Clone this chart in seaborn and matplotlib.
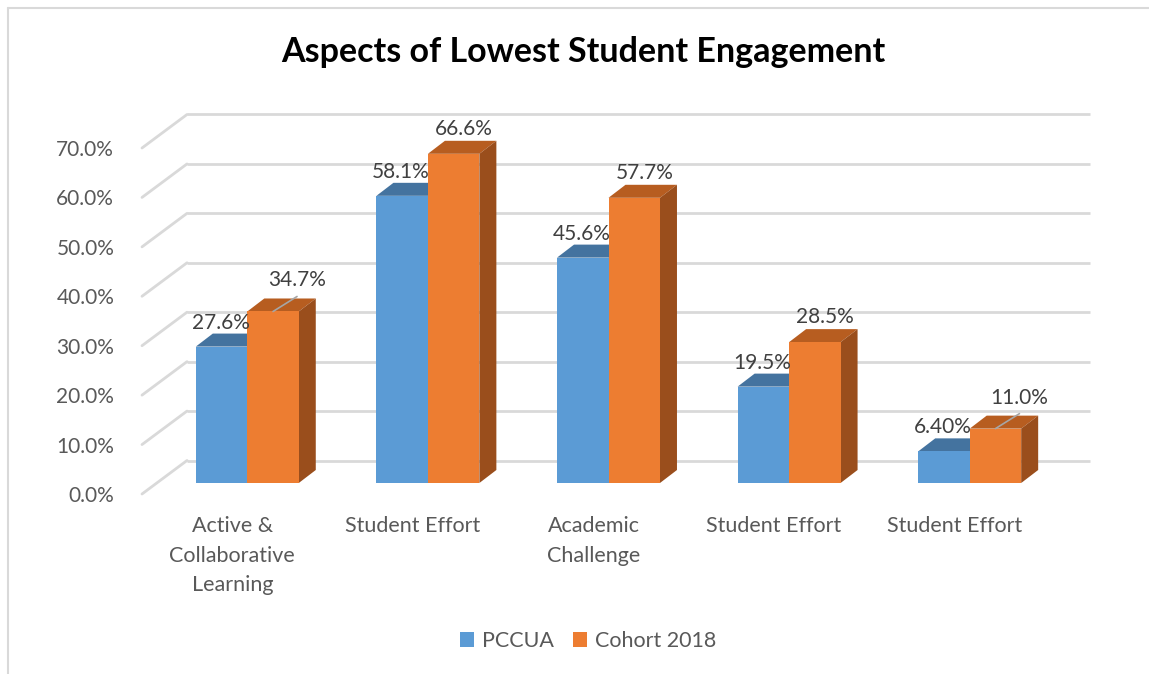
import matplotlib
matplotlib.use("Agg")
import matplotlib.pyplot as plt
import seaborn as sns
import pandas as pd
from matplotlib.patches import Polygon
from matplotlib.lines import Line2D
from matplotlib.transforms import ScaledTranslation

# ---------------- data ----------------
categories = ["Active &\nCollaborative\nLearning", "Student Effort",
              "Academic\nChallenge", "Student Effort", "Student Effort"]
series_names = ["PCCUA", "Cohort 2018"]
pccua = [27.6, 58.1, 45.6, 19.5, 6.4]
cohort = [34.7, 66.6, 57.7, 28.5, 11.0]
pccua_labels = ["27.6%", "58.1%", "45.6%", "19.5%", "6.40%"]
cohort_labels = ["34.7%", "66.6%", "57.7%", "28.5%", "11.0%"]
yticks = [0, 10, 20, 30, 40, 50, 60, 70]

# ---------------- style ----------------
W, H, DPI = 1149, 674, 100
FONT = "Lato"
BLUE, BLUE_TOP = "#5B9BD5", "#44739F"
ORANGE, ORANGE_TOP, ORANGE_SIDE = "#ED7D31", "#B75D20", "#9A4E1C"
GRID = "#D9D9D9"
TXT = "#595959"
LBL = "#404040"

sns.set_style("white")
plt.rcParams["font.family"] = [FONT, "DejaVu Sans"]

fig = plt.figure(figsize=(W / DPI, H / DPI), dpi=DPI)
fig.patch.set_facecolor("white")

# axes = floor-front plane
L, R, B, T = 142, 1045, 494, 148
ax = fig.add_axes([L / W, (H - B) / H, (R - L) / W, (B - T) / H])
ax.set_facecolor("none")

ids = [f"c{i}" for i in range(len(categories))]
df = pd.DataFrame({
    "cat": ids * 2,
    "series": [series_names[0]] * len(ids) + [series_names[1]] * len(ids),
    "value": pccua + cohort,
})
sns.barplot(data=df, x="cat", y="value", hue="series", order=ids,
            hue_order=series_names, palette=[BLUE, ORANGE], saturation=1,
            width=0.57, edgecolor="none", linewidth=0, ax=ax, legend=False,
            zorder=3)

ax.set_xlim(-0.5, len(ids) - 0.5)
ax.set_ylim(0, 70)
for s in ax.spines.values():
    s.set_visible(False)

pxx = (R - L) / len(ids)      # px per category unit
pxy = (B - T) / 70.0          # px per percent

def shift(dx, dy):
    return ax.transData + ScaledTranslation(dx / DPI, dy / DPI, fig.dpi_scale_trans)

# back wall gridlines and slanted floor/wall lines
WX, WY = 45, 33.5
wdx, wdy = WX / pxx, WY / pxy
for yv in yticks:
    ax.plot([-0.5 + wdx, len(ids) - 0.5 + wdx], [yv + wdy, yv + wdy],
            color=GRID, lw=2, clip_on=False, zorder=1, solid_capstyle="butt")
    ax.plot([-0.5, -0.5 + wdx], [yv, yv + wdy], color=GRID, lw=2,
            clip_on=False, zorder=1)

# bars live on a plane slightly behind the floor front edge
BX, BY = 15, 11
bar_tr = shift(BX, BY)
DX, DY = 17, 13
ddx, ddy = DX / pxx, DY / pxy

tops = {0: (BLUE_TOP, None), 1: (ORANGE_TOP, ORANGE_SIDE)}
for si, cont in enumerate(ax.containers):
    top_c, side_c = tops[si]
    for p in cont.patches:
        p.set_transform(bar_tr)
        p.set_clip_on(False)
        x0, w, h = p.get_x(), p.get_width(), p.get_height()
        top = Polygon([(x0, h), (x0 + w, h), (x0 + w + ddx, h + ddy), (x0 + ddx, h + ddy)],
                      closed=True, facecolor=top_c, edgecolor="none",
                      transform=bar_tr, clip_on=False, zorder=2)
        ax.add_patch(top)
        side = Polygon([(x0 + w, 0), (x0 + w, h), (x0 + w + ddx, h + ddy), (x0 + w + ddx, ddy)],
                       closed=True, facecolor=side_c if side_c else top_c,
                       edgecolor="none", transform=bar_tr, clip_on=False, zorder=2)
        ax.add_patch(side)

# data labels
leader = {0, 4}
for si, (cont, labels) in enumerate(zip(ax.containers, [pccua_labels, cohort_labels])):
    for i, (p, lab) in enumerate(zip(cont.patches, labels)):
        cx = p.get_x() + p.get_width() / 2
        h = p.get_height()
        if si == 0:
            ox, oy = BX - 1, BY + 24
        elif i in leader:
            ox, oy = BX + 24, BY + 31
            ax.plot([cx, cx + 24 / pxx], [h, h + 15 / pxy], color="#A6A6A6",
                    lw=1.2, transform=bar_tr, clip_on=False, zorder=4)
        else:
            ox, oy = BX + 10, BY + 25
        ax.text(cx, h, lab, transform=shift(ox, oy), ha="center", va="center",
                fontsize=15, color=LBL, zorder=5, clip_on=False)

# axes ticks
ax.set_yticks(yticks)
ax.set_yticklabels([f"{v:.1f}%" for v in yticks])
ax.set_xticks(range(len(ids)))
ax.set_xticklabels(categories, linespacing=1.6)
ax.tick_params(axis="y", length=0, pad=20, labelsize=15, labelcolor=TXT)
ax.tick_params(axis="x", length=0, pad=16, labelsize=15.5, labelcolor=TXT)
ax.set_xlabel("")
ax.set_ylabel("")
ax.grid(False)

# title
fig.text(583.5 / W, 1 - 62 / H, "Aspects of Lowest Student Engagement",
         ha="center", va="baseline", fontsize=24.5, fontweight="bold", color="black")

# legend
handles = [plt.Rectangle((0, 0), 1, 1, facecolor=c, edgecolor="none") for c in (BLUE, ORANGE)]
fig.legend(handles, series_names, loc="center", bbox_to_anchor=(588 / W, 1 - 641 / H),
           ncol=2, frameon=False, fontsize=15.5, labelcolor=TXT,
           handlelength=0.65, handleheight=0.65, handletextpad=0.35, columnspacing=0.9)

# outer border (top and left)
fig.add_artist(Line2D([8 / W, 1.0], [1 - 8 / H, 1 - 8 / H], color=GRID, lw=1.5,
                      transform=fig.transFigure))
fig.add_artist(Line2D([8 / W, 8 / W], [1 - 8 / H, 0], color=GRID, lw=1.5,
                      transform=fig.transFigure))

fig.savefig("out.png", dpi=DPI, facecolor="white")
